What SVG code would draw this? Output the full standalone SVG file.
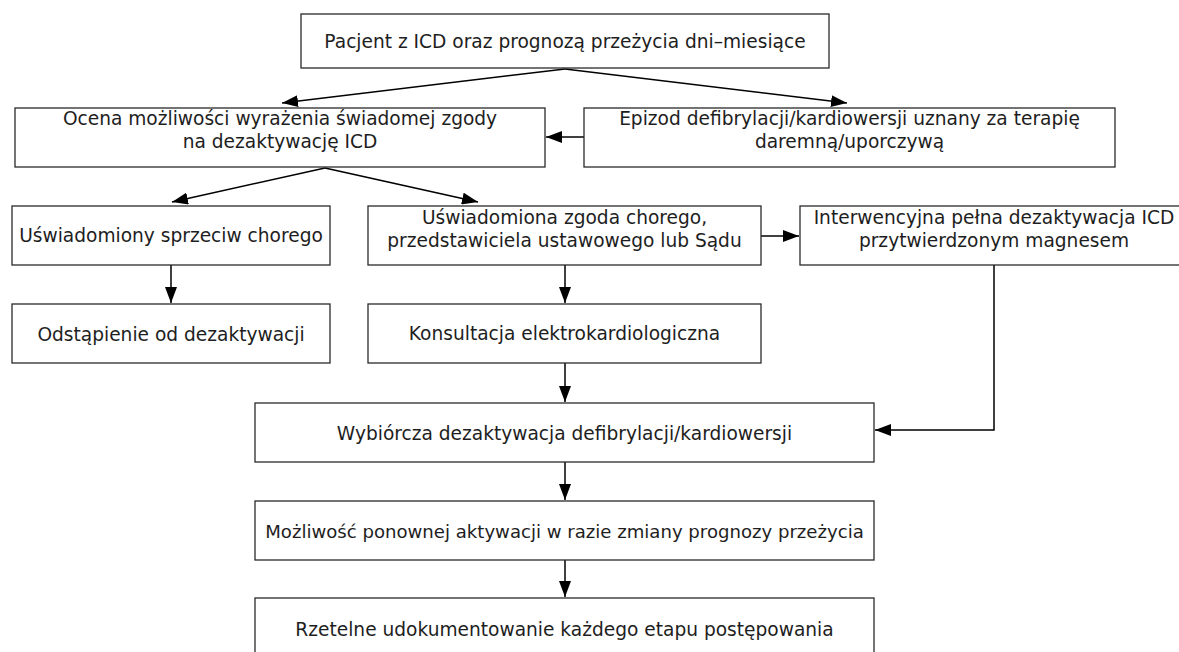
<svg xmlns="http://www.w3.org/2000/svg" width="1179" height="652" viewBox="0 0 1179 652">
<style>
.box{fill:#fff;stroke:#2a2a2a;stroke-width:1.3}
.t{font-family:"DejaVu Sans","Liberation Sans",sans-serif;font-size:18.6px;fill:#1e1e1e;text-anchor:middle}
.c{fill:none;stroke:#000;stroke-width:1.5;marker-end:url(#ah)}
</style>
<defs>
<marker id="ah" viewBox="0 0 16 12" refX="16" refY="6" markerWidth="16" markerHeight="12" markerUnits="userSpaceOnUse" orient="auto">
<path d="M0,0 L16,6 L0,12 z" fill="#000"/>
</marker>
</defs>
<rect width="1179" height="652" fill="#fff"/>
<g id="connectors">
<line class="c" x1="565" y1="69" x2="282" y2="103"/>
<line class="c" x1="565" y1="69" x2="847" y2="103"/>
<line class="c" x1="584" y1="137" x2="546" y2="137"/>
<line class="c" x1="325" y1="168" x2="172" y2="202"/>
<line class="c" x1="325" y1="168" x2="478" y2="202"/>
<line class="c" x1="171" y1="265" x2="171" y2="303"/>
<line class="c" x1="565" y1="265" x2="565" y2="303"/>
<line class="c" x1="761" y1="236" x2="799" y2="236"/>
<line class="c" x1="565" y1="363" x2="565" y2="402"/>
<path class="c" d="M994,265 V430 H875"/>
<line class="c" x1="565" y1="462" x2="565" y2="500"/>
<line class="c" x1="565" y1="560" x2="565" y2="597"/>
</g>
<g id="n-pacjent">
<rect class="box" x="301" y="14" width="528" height="54"/>
<text class="t" x="565" y="48">Pacjent z ICD oraz prognozą przeżycia dni–miesiące</text>
</g>
<g id="n-ocena">
<rect class="box" x="15" y="108" width="530" height="59"/>
<text class="t" x="280" y="125">Ocena możliwości wyrażenia świadomej zgody</text>
<text class="t" x="280" y="148">na dezaktywację ICD</text>
</g>
<g id="n-epizod">
<rect class="box" x="584" y="108" width="531" height="59"/>
<text class="t" x="849.5" y="125">Epizod defibrylacji/kardiowersji uznany za terapię</text>
<text class="t" x="849.5" y="148">daremną/uporczywą</text>
</g>
<g id="n-sprzeciw">
<rect class="box" x="12" y="206" width="318" height="59"/>
<text class="t" x="171" y="242">Uświadomiony sprzeciw chorego</text>
</g>
<g id="n-zgoda">
<rect class="box" x="368" y="206" width="393" height="59"/>
<text class="t" x="564.5" y="224">Uświadomiona zgoda chorego,</text>
<text class="t" x="564.5" y="247">przedstawiciela ustawowego lub Sądu</text>
</g>
<g id="n-interwencyjna">
<rect class="box" x="800" y="206" width="388" height="59"/>
<text class="t" x="994" y="224">Interwencyjna pełna dezaktywacja ICD</text>
<text class="t" x="994" y="247">przytwierdzonym magnesem</text>
</g>
<g id="n-odstapienie">
<rect class="box" x="12" y="304" width="318" height="59"/>
<text class="t" x="171" y="341">Odstąpienie od dezaktywacji</text>
</g>
<g id="n-konsultacja">
<rect class="box" x="368" y="304" width="393" height="59"/>
<text class="t" x="564.5" y="340">Konsultacja elektrokardiologiczna</text>
</g>
<g id="n-wybiorcza">
<rect class="box" x="255" y="403" width="619" height="59"/>
<text class="t" x="564.5" y="440">Wybiórcza dezaktywacja defibrylacji/kardiowersji</text>
</g>
<g id="n-mozliwosc">
<rect class="box" x="255" y="501" width="619" height="59"/>
<text class="t" x="564.5" y="538" style="font-size:18.1px">Możliwość ponownej aktywacji w razie zmiany prognozy przeżycia</text>
</g>
<g id="n-rzetelne">
<rect class="box" x="255" y="598" width="619" height="62"/>
<text class="t" x="564.5" y="636">Rzetelne udokumentowanie każdego etapu postępowania</text>
</g>
</svg>
